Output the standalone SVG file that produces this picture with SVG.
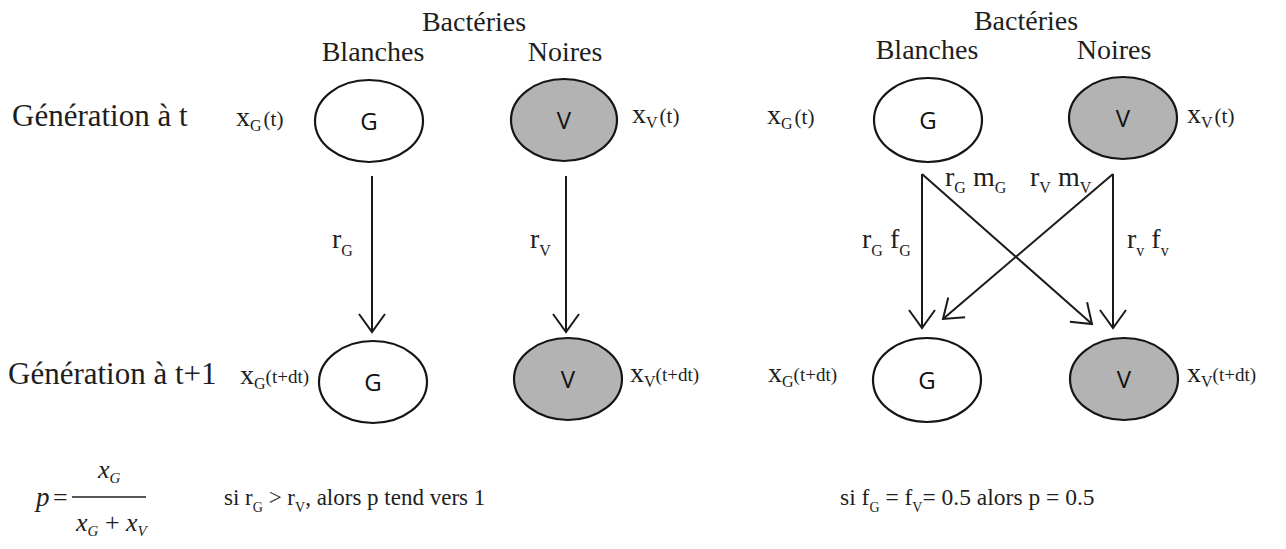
<svg xmlns="http://www.w3.org/2000/svg" width="1286" height="549" viewBox="0 0 1286 549">
<style>
.s{font-family:"Liberation Serif","Times New Roman",serif;fill:#1e1e1e}
.h{font-size:28px;text-anchor:middle}
.x{font-size:28px}
.sb{font-size:16px}
.n{font-family:"Open Sans","DejaVu Sans",sans-serif;font-size:24px;fill:#111;text-anchor:middle}
.w{fill:#ffffff;stroke:#151515;stroke-width:2.2}
.g{fill:#b3b3b3;stroke:#151515;stroke-width:2.2}
.c{fill:none;stroke:#1a1a1a;stroke-width:2;marker-end:url(#ah)}
</style>
<defs>
<marker id="ah" markerUnits="userSpaceOnUse" viewBox="-22 -16 24 32" markerWidth="24" markerHeight="32" refX="0" refY="0" orient="auto">
<path d="M-18,-13 L0,0 L-18,13" fill="none" stroke="#1a1a1a" stroke-width="2"/>
</marker>
</defs>
<rect width="1286" height="549" fill="#ffffff"/>

<g id="headers">
<text class="s h" x="474" y="31">Bactéries</text>
<text class="s h" x="373" y="61">Blanches</text>
<text class="s h" x="565" y="61">Noires</text>
<text class="s h" x="1026" y="30">Bactéries</text>
<text class="s h" x="927" y="59">Blanches</text>
<text class="s h" x="1114" y="59">Noires</text>
<text class="s" font-size="31" x="12" y="126">Génération à t</text>
<text class="s" font-size="31" x="8" y="384">Génération à t+1</text>
</g>

<g id="connectors">
<line class="c" x1="372" y1="176" x2="372" y2="332"/>
<line class="c" x1="566" y1="176" x2="566" y2="332"/>
<line class="c" x1="922" y1="174" x2="922" y2="328"/>
<line class="c" x1="1113" y1="174" x2="1113" y2="328"/>
<line class="c" x1="922" y1="174" x2="1092" y2="324"/>
<line class="c" x1="1113" y1="174" x2="943" y2="319"/>
<text class="s x" x="332" y="248">r<tspan class="sb" dy="8">G</tspan></text>
<text class="s x" x="530" y="248">r<tspan class="sb" dy="8">V</tspan></text>
<text class="s x" x="945" y="186">r<tspan class="sb" dy="7">G</tspan><tspan dy="-7"> m</tspan><tspan class="sb" dy="7">G</tspan></text>
<text class="s x" x="1030" y="186">r<tspan class="sb" dy="7">V</tspan><tspan dy="-7"> m</tspan><tspan class="sb" dy="7">V</tspan></text>
<text class="s x" x="862" y="248">r<tspan class="sb" dy="8">G</tspan><tspan dy="-8"> f</tspan><tspan class="sb" dy="8">G</tspan></text>
<text class="s x" x="1127" y="248">r<tspan class="sb" dy="8">v</tspan><tspan dy="-8"> f</tspan><tspan class="sb" dy="8">v</tspan></text>
</g>

<g id="G_t_left">
<ellipse class="w" cx="369" cy="121" rx="54" ry="41"/>
<text class="n" x="369" y="130">G</text>
<text class="s x" x="236" y="126">x<tspan class="sb" dy="5">G</tspan><tspan font-size="21" dy="-5" dx="2">(t)</tspan></text>
</g>
<g id="V_t_left">
<ellipse class="g" cx="564" cy="120" rx="53" ry="41"/>
<text class="n" x="564" y="129">V</text>
<text class="s x" x="632" y="123">x<tspan class="sb" dy="5">V</tspan><tspan font-size="21" dy="-5" dx="2">(t)</tspan></text>
</g>
<g id="G_t1_left">
<ellipse class="w" cx="373" cy="382" rx="54" ry="41"/>
<text class="n" x="373" y="391">G</text>
<text class="s x" x="240" y="384">x<tspan class="sb" dy="5">G</tspan><tspan font-size="19" dy="-6">(t+dt)</tspan></text>
</g>
<g id="V_t1_left">
<ellipse class="g" cx="568" cy="379" rx="54" ry="41"/>
<text class="n" x="568" y="388">V</text>
<text class="s x" x="630" y="382">x<tspan class="sb" dy="5">V</tspan><tspan font-size="19" dy="-6">(t+dt)</tspan></text>
</g>

<g id="G_t_right">
<ellipse class="w" cx="928" cy="120" rx="54" ry="42"/>
<text class="n" x="928" y="129">G</text>
<text class="s x" x="767" y="124">x<tspan class="sb" dy="5">G</tspan><tspan font-size="21" dy="-5" dx="2">(t)</tspan></text>
</g>
<g id="V_t_right">
<ellipse class="g" cx="1123" cy="118" rx="54" ry="41"/>
<text class="n" x="1123" y="127">V</text>
<text class="s x" x="1187" y="123">x<tspan class="sb" dy="5">V</tspan><tspan font-size="21" dy="-5" dx="2">(t)</tspan></text>
</g>
<g id="G_t1_right">
<ellipse class="w" cx="927" cy="380" rx="54" ry="42"/>
<text class="n" x="927" y="389">G</text>
<text class="s x" x="768" y="382">x<tspan class="sb" dy="5">G</tspan><tspan font-size="19" dy="-6">(t+dt)</tspan></text>
</g>
<g id="V_t1_right">
<ellipse class="g" cx="1124" cy="379" rx="54" ry="41"/>
<text class="n" x="1124" y="388">V</text>
<text class="s x" x="1187" y="382">x<tspan class="sb" dy="5">V</tspan><tspan font-size="19" dy="-6">(t+dt)</tspan></text>
</g>

<g id="formula">
<text class="s" font-size="27" font-style="italic" x="36" y="506">p</text>
<text class="s" font-size="26" x="53" y="506">=</text>
<line x1="72" y1="497" x2="146" y2="497" stroke="#1e1e1e" stroke-width="1.3"/>
<text class="s" font-size="26" font-style="italic" x="98" y="478">x<tspan font-size="15" dy="5">G</tspan></text>
<text class="s" font-size="26" x="76" y="531"><tspan font-style="italic">x</tspan><tspan font-size="15" font-style="italic" dy="5">G</tspan><tspan dy="-5"> + </tspan><tspan font-style="italic">x</tspan><tspan font-size="15" font-style="italic" dy="5">V</tspan></text>
</g>
<g id="notes">
<text class="s" font-size="23" x="224" y="505">si r<tspan font-size="14" dy="7">G</tspan><tspan dy="-7"> &gt; r</tspan><tspan font-size="14" dy="7">V</tspan><tspan dy="-7">, alors p tend vers 1</tspan></text>
<text class="s" font-size="23.5" x="840" y="505">si f<tspan font-size="14" dy="7">G</tspan><tspan dy="-7"> = f</tspan><tspan font-size="14" dy="7">V</tspan><tspan dy="-7">= 0.5 alors p = 0.5</tspan></text>
</g>
</svg>
